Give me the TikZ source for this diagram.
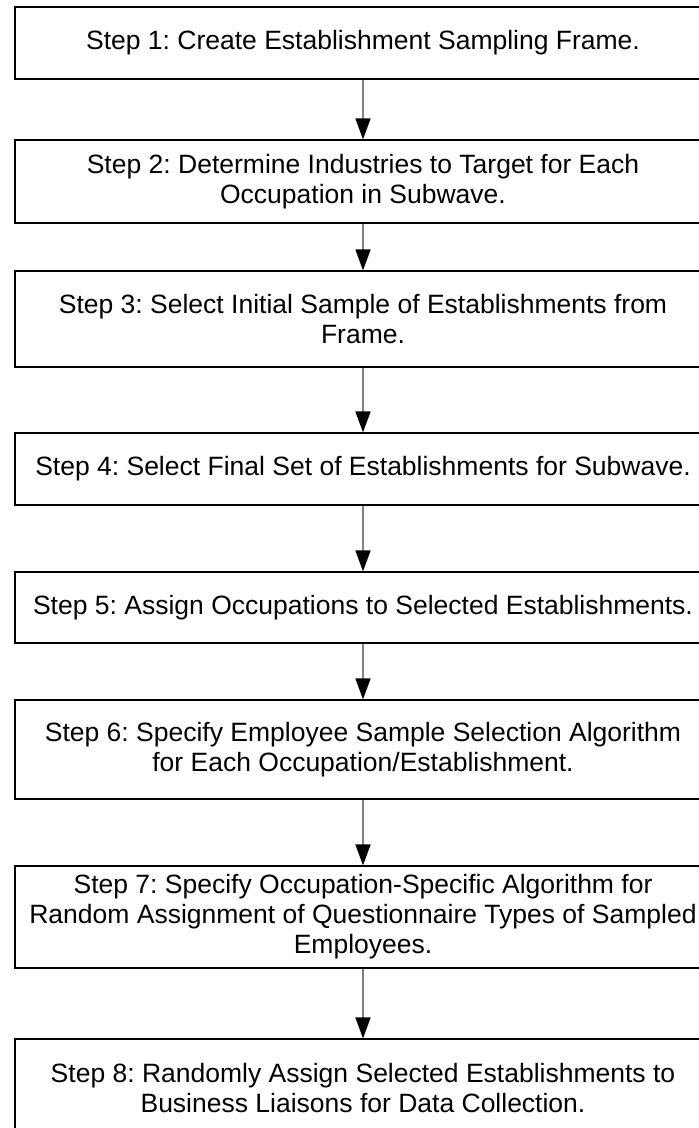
\documentclass[tikz,border=0pt]{standalone}
\usepackage{fontspec}
\setmainfont{Liberation Sans}
\usetikzlibrary{arrows.meta}
\frenchspacing

\tikzset{
	stepbox/.style={draw=black, line width=1.2pt, minimum width=696pt, inner sep=0pt, align=center, font=\fontsize{26.5}{30}\selectfont},
	flowarr/.style={draw=gray, line width=1.6pt, -{Triangle[width=15pt,length=21pt,color=black]}}
}

\begin{document}
\begin{tikzpicture}[x=1pt, y=-1pt]
\useasboundingbox (0,0) rectangle (699,1128);
\clip (0,0) rectangle (699,1128);
\node[stepbox, minimum height=72pt] (s1) at (363,43) {Step 1: Create Establishment Sampling Frame.};
\node[stepbox, minimum height=83pt] (s2) at (363,181.5) {Step 2: Determine Industries to Target for Each\\Occupation in Subwave.};
\node[stepbox, minimum height=96pt] (s3) at (363,319) {Step 3: Select Initial Sample of Establishments from\\Frame.};
\node[stepbox, minimum height=72pt] (s4) at (363,469) {Step 4: Select Final Set of Establishments for Subwave.};
\node[stepbox, minimum height=71pt] (s5) at (363,607.5) {Step 5: Assign Occupations to Selected Establishments.};
\node[stepbox, minimum height=99pt] (s6) at (363,749.5) {Step 6: Specify Employee Sample Selection Algorithm\\for Each Occupation/Establishment.};
\node[stepbox, minimum height=102pt] (s7) at (363,917) {Step 7: Specify Occupation-Specific Algorithm for\\Random Assignment of Questionnaire Types of Sampled\\Employees.};
\node[stepbox, minimum height=99pt] (s8) at (363,1088.5) {Step 8: Randomly Assign Selected Establishments to\\Business Liaisons for Data Collection.};
\foreach \a/\b in {1/2,2/3,3/4,4/5,5/6,6/7,7/8} \draw[flowarr] (s\a) -- (s\b);
\end{tikzpicture}
\end{document}
